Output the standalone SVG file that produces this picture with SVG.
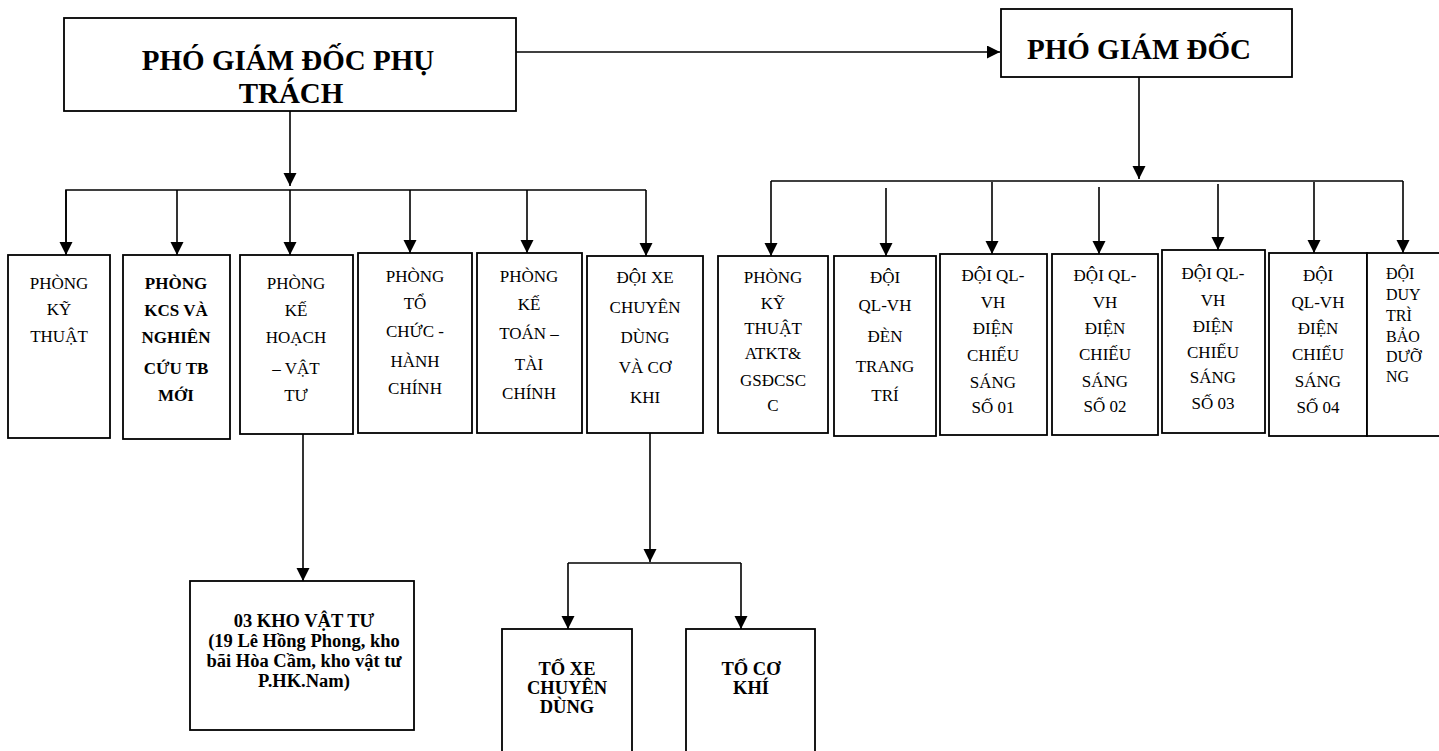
<svg xmlns="http://www.w3.org/2000/svg" width="1439" height="751" viewBox="0 0 1439 751">
<style>
  .box{fill:#fff;stroke:#000;stroke-width:1.8}
  .ln{fill:none;stroke:#000;stroke-width:1.6}
  .arr{fill:none;stroke:#000;stroke-width:1.6;marker-end:url(#ah)}
  text{font-family:"Liberation Serif","Times New Roman",serif;fill:#000}
  .t1{font-size:29px;font-weight:bold;text-anchor:middle}
  .t2{font-size:17px;text-anchor:middle}
  .t2b{font-size:17px;font-weight:bold;text-anchor:middle}
  .t3{font-size:18.5px;font-weight:bold;text-anchor:middle}
  .t4{font-size:16px}
</style>
<defs>
  <marker id="ah" markerUnits="userSpaceOnUse" markerWidth="14" markerHeight="14" refX="13" refY="6.5" orient="auto">
    <path d="M0,0 L13,6.5 L0,13 Z" fill="#000"/>
  </marker>
</defs>
<rect width="1439" height="751" fill="#fff"/>
<g id="connectors">
  <line class="arr" x1="516" y1="52" x2="1000" y2="52"/>
  <line class="arr" x1="290" y1="111" x2="290" y2="186"/>
  <polyline class="ln" points="66,255 66,190 646,190"/>
  <line class="arr" x1="66" y1="190" x2="66" y2="255"/>
  <line class="arr" x1="177" y1="190" x2="177" y2="255"/>
  <line class="arr" x1="290" y1="190" x2="290" y2="255"/>
  <line class="arr" x1="410" y1="190" x2="410" y2="253"/>
  <line class="arr" x1="527" y1="190" x2="527" y2="253"/>
  <line class="arr" x1="646" y1="190" x2="646" y2="256"/>
  <line class="arr" x1="1139" y1="77" x2="1139" y2="179"/>
  <line class="ln" x1="771" y1="181" x2="1403" y2="181"/>
  <line class="arr" x1="771" y1="181" x2="771" y2="256"/>
  <line class="arr" x1="886" y1="188" x2="886" y2="256"/>
  <line class="arr" x1="992" y1="182" x2="992" y2="254"/>
  <line class="arr" x1="1099" y1="187" x2="1099" y2="254"/>
  <line class="arr" x1="1218" y1="184" x2="1218" y2="250"/>
  <line class="arr" x1="1314" y1="182" x2="1314" y2="253"/>
  <line class="arr" x1="1403" y1="181" x2="1403" y2="253"/>
  <line class="arr" x1="303" y1="434" x2="303" y2="581"/>
  <line class="arr" x1="650" y1="433" x2="650" y2="562"/>
  <line class="ln" x1="568" y1="563" x2="741" y2="563"/>
  <line class="arr" x1="568" y1="563" x2="568" y2="629"/>
  <line class="arr" x1="741" y1="563" x2="741" y2="629"/>
</g>
<g id="pgd-phu-trach">
  <rect class="box" x="64" y="18" width="452" height="93"/>
  <text class="t1" x="288" y="70">PHÓ GIÁM ĐỐC PHỤ</text>
  <text class="t1" x="291" y="103">TRÁCH</text>
</g>
<g id="pgd">
  <rect class="box" x="1001" y="9" width="291" height="68"/>
  <text class="t1" x="1139" y="59">PHÓ GIÁM ĐỐC</text>
</g>
<g id="phong-ky-thuat">
  <rect class="box" x="8" y="255" width="102" height="183"/>
  <text class="t2" x="59" y="289">PHÒNG</text>
  <text class="t2" x="59" y="315">KỸ</text>
  <text class="t2" x="59" y="342">THUẬT</text>
</g>
<g id="phong-kcs">
  <rect class="box" x="123" y="255" width="107" height="184"/>
  <text class="t2b" x="176" y="289">PHÒNG</text>
  <text class="t2b" x="176" y="316">KCS VÀ</text>
  <text class="t2b" x="176" y="343">NGHIÊN</text>
  <text class="t2b" x="176" y="374">CỨU TB</text>
  <text class="t2b" x="176" y="401">MỚI</text>
</g>
<g id="phong-ke-hoach">
  <rect class="box" x="240" y="255" width="113" height="179"/>
  <text class="t2" x="296" y="289">PHÒNG</text>
  <text class="t2" x="296" y="316">KẾ</text>
  <text class="t2" x="296" y="343">HOẠCH</text>
  <text class="t2" x="296" y="374">– VẬT</text>
  <text class="t2" x="296" y="401">TƯ</text>
</g>
<g id="phong-to-chuc">
  <rect class="box" x="358" y="253" width="114" height="180"/>
  <text class="t2" x="415" y="282">PHÒNG</text>
  <text class="t2" x="415" y="309">TỔ</text>
  <text class="t2" x="415" y="337">CHỨC -</text>
  <text class="t2" x="415" y="367">HÀNH</text>
  <text class="t2" x="415" y="394">CHÍNH</text>
</g>
<g id="phong-ke-toan">
  <rect class="box" x="477" y="253" width="105" height="180"/>
  <text class="t2" x="529" y="282">PHÒNG</text>
  <text class="t2" x="529" y="310">KẾ</text>
  <text class="t2" x="529" y="339">TOÁN –</text>
  <text class="t2" x="529" y="370">TÀI</text>
  <text class="t2" x="529" y="399">CHÍNH</text>
</g>
<g id="doi-xe">
  <rect class="box" x="587" y="256" width="116" height="177"/>
  <text class="t2" x="645" y="283">ĐỘI XE</text>
  <text class="t2" x="645" y="313">CHUYÊN</text>
  <text class="t2" x="645" y="343">DÙNG</text>
  <text class="t2" x="645" y="373">VÀ CƠ</text>
  <text class="t2" x="645" y="403">KHI</text>
</g>
<g id="phong-ky-thuat-atkt">
  <rect class="box" x="718" y="256" width="110" height="177"/>
  <text class="t2" x="773" y="283">PHÒNG</text>
  <text class="t2" x="773" y="309">KỸ</text>
  <text class="t2" x="773" y="334">THUẬT</text>
  <text class="t2" x="773" y="359">ATKT&amp;</text>
  <text class="t2" x="773" y="386">GSĐCSC</text>
  <text class="t2" x="773" y="411">C</text>
</g>
<g id="doi-den-trang-tri">
  <rect class="box" x="834" y="256" width="102" height="180"/>
  <text class="t2" x="885" y="283">ĐỘI</text>
  <text class="t2" x="885" y="311">QL-VH</text>
  <text class="t2" x="885" y="342">ĐÈN</text>
  <text class="t2" x="885" y="372">TRANG</text>
  <text class="t2" x="885" y="401">TRÍ</text>
</g>
<g id="doi-so-01">
  <rect class="box" x="940" y="254" width="107" height="181"/>
  <text class="t2" x="993" y="281">ĐỘI QL-</text>
  <text class="t2" x="993" y="308">VH</text>
  <text class="t2" x="993" y="334">ĐIỆN</text>
  <text class="t2" x="993" y="361">CHIẾU</text>
  <text class="t2" x="993" y="388">SÁNG</text>
  <text class="t2" x="993" y="413">SỐ 01</text>
</g>
<g id="doi-so-02">
  <rect class="box" x="1052" y="254" width="106" height="181"/>
  <text class="t2" x="1105" y="281">ĐỘI QL-</text>
  <text class="t2" x="1105" y="308">VH</text>
  <text class="t2" x="1105" y="334">ĐIỆN</text>
  <text class="t2" x="1105" y="360">CHIẾU</text>
  <text class="t2" x="1105" y="387">SÁNG</text>
  <text class="t2" x="1105" y="412">SỐ 02</text>
</g>
<g id="doi-so-03">
  <rect class="box" x="1162" y="250" width="103" height="183"/>
  <text class="t2" x="1213" y="279">ĐỘI QL-</text>
  <text class="t2" x="1213" y="306">VH</text>
  <text class="t2" x="1213" y="332">ĐIỆN</text>
  <text class="t2" x="1213" y="358">CHIẾU</text>
  <text class="t2" x="1213" y="383">SÁNG</text>
  <text class="t2" x="1213" y="409">SỐ 03</text>
</g>
<g id="doi-so-04">
  <rect class="box" x="1269" y="253" width="98" height="183"/>
  <text class="t2" x="1318" y="281">ĐỘI</text>
  <text class="t2" x="1318" y="308">QL-VH</text>
  <text class="t2" x="1318" y="334">ĐIỆN</text>
  <text class="t2" x="1318" y="360">CHIẾU</text>
  <text class="t2" x="1318" y="387">SÁNG</text>
  <text class="t2" x="1318" y="413">SỐ 04</text>
</g>
<g id="doi-duy-tri">
  <rect class="box" x="1367" y="253" width="90" height="183"/>
  <text class="t4" x="1386" y="279">ĐỘI</text>
  <text class="t4" x="1386" y="300">DUY</text>
  <text class="t4" x="1386" y="321">TRÌ</text>
  <text class="t4" x="1386" y="342">BẢO</text>
  <text class="t4" x="1386" y="362">DƯỠ</text>
  <text class="t4" x="1386" y="382">NG</text>
</g>
<g id="kho-vat-tu">
  <rect class="box" x="190" y="581" width="224" height="149"/>
  <text class="t3" x="304" y="627">03 KHO VẬT TƯ</text>
  <text class="t3" x="304" y="647">(19 Lê Hồng Phong, kho</text>
  <text class="t3" x="304" y="667">bãi Hòa Cầm, kho vật tư</text>
  <text class="t3" x="304" y="687">P.HK.Nam)</text>
</g>
<g id="to-xe">
  <rect class="box" x="502" y="629" width="130" height="140"/>
  <text class="t3" x="567" y="675">TỔ XE</text>
  <text class="t3" x="567" y="694">CHUYÊN</text>
  <text class="t3" x="567" y="713">DÙNG</text>
</g>
<g id="to-co-khi">
  <rect class="box" x="686" y="629" width="129" height="140"/>
  <text class="t3" x="751" y="675">TỔ CƠ</text>
  <text class="t3" x="751" y="694">KHÍ</text>
</g>
</svg>
